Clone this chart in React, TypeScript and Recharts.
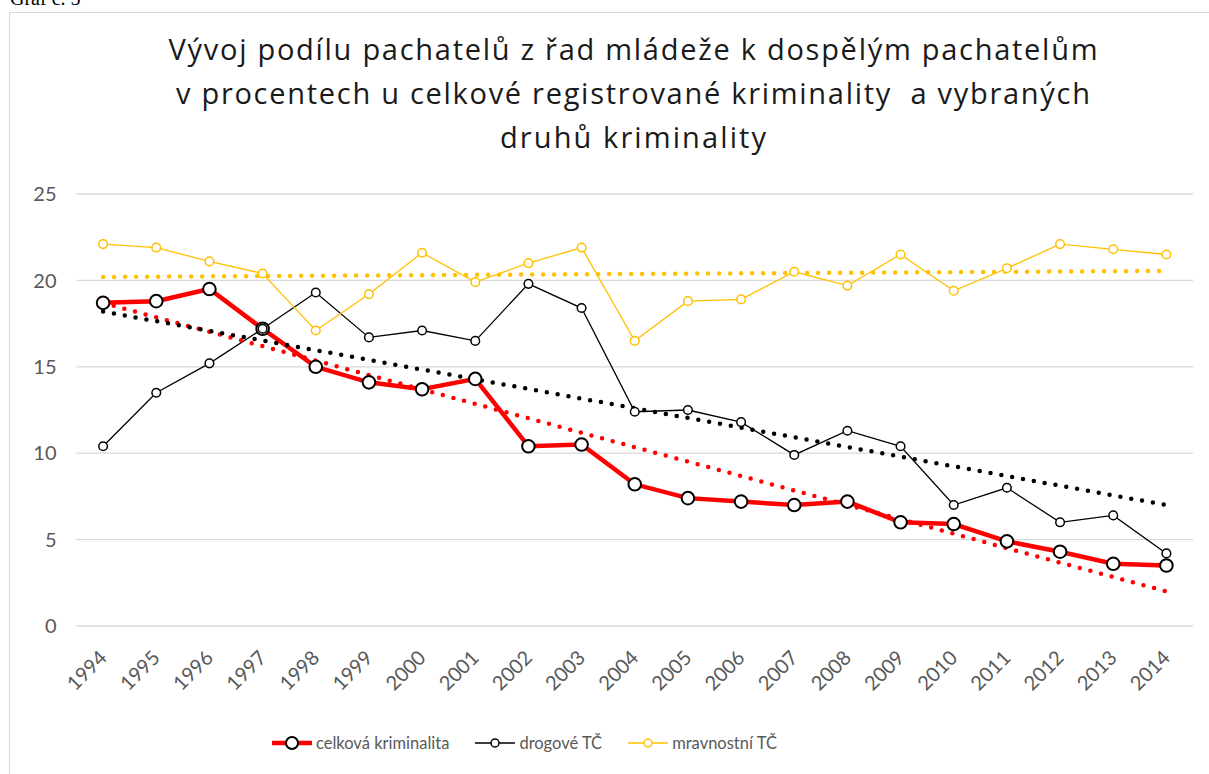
import React from 'react';
import { LineChart, Line, XAxis, YAxis, CartesianGrid, ReferenceLine } from 'recharts';

const years = [
  '1994', '1995', '1996', '1997', '1998', '1999', '2000', '2001', '2002', '2003', '2004',
  '2005', '2006', '2007', '2008', '2009', '2010', '2011', '2012', '2013', '2014',
];

const celkova = [18.7, 18.8, 19.5, 17.2, 15.0, 14.1, 13.7, 14.3, 10.4, 10.5, 8.2, 7.4, 7.2, 7.0, 7.2, 6.0, 5.9, 4.9, 4.3, 3.6, 3.5];
const drogove = [10.4, 13.5, 15.2, 17.2, 19.3, 16.7, 17.1, 16.5, 19.8, 18.4, 12.4, 12.5, 11.8, 9.9, 11.3, 10.4, 7.0, 8.0, 6.0, 6.4, 4.2];
const mravnostni = [22.1, 21.9, 21.1, 20.4, 17.1, 19.2, 21.6, 19.9, 21.0, 21.9, 16.5, 18.8, 18.9, 20.5, 19.7, 21.5, 19.4, 20.7, 22.1, 21.8, 21.5];

// lineární spojnice trendu (hodnoty na začátku a konci)
const trendCelkova = [18.7, 2.0];
const trendDrogove = [18.2, 7.0];
const trendMravnostni = [20.2, 20.55];

const yTicks = [0, 5, 10, 15, 20, 25];

const titleLines = [
  'Vývoj podílu pachatelů z řad mládeže k dospělým pachatelům',
  'v procentech u celkové registrované kriminality  a vybraných',
  'druhů kriminality',
];
const titleWidths = [929, 914, 266];

const data = years.map((y, i) => ({
  year: y,
  celkova: celkova[i],
  drogove: drogove[i],
  mravnostni: mravnostni[i],
}));

const FONT = 'Lato, "Open Sans", sans-serif';
const TITLE_FONT = '"Open Sans", Lato, sans-serif';
const GRAY = '#595959';
const RED = '#FF0000';
const YELLOW = '#FFC000';

const XTick = (props: any) => {
  const { x, y, payload } = props;
  const px = x + 5;
  const py = y + 25;
  return (
    <text
      x={px}
      y={py}
      transform={`rotate(-45, ${px}, ${py})`}
      textAnchor="end"
      fill={GRAY}
      fontSize={20}
      fontFamily={FONT}
    >
      {payload.value}
    </text>
  );
};

const legendItems = [
  { label: 'celková kriminalita', color: RED, width: 4.5, r: 6, markerStroke: '#000', markerWidth: 2 },
  { label: 'drogové TČ', color: '#000', width: 1.5, r: 4, markerStroke: '#000', markerWidth: 1.5 },
  { label: 'mravnostní TČ', color: YELLOW, width: 1.5, r: 4, markerStroke: YELLOW, markerWidth: 1.5 },
];

const ChartLegend = () => (
  <div
    style={{
      position: 'absolute',
      left: 272,
      top: 731,
      display: 'flex',
      gap: 26,
      fontFamily: FONT,
      fontSize: 16.5,
      color: GRAY,
      lineHeight: '24px',
      whiteSpace: 'nowrap',
    }}
  >
    {legendItems.map((it) => (
      <div key={it.label} style={{ display: 'flex', alignItems: 'center', gap: 4 }}>
        <svg width={40} height={16} style={{ display: 'block' }}>
          <line x1={0} y1={8} x2={40} y2={8} stroke={it.color} strokeWidth={it.width} />
          <circle cx={20} cy={8} r={it.r} fill="#fff" stroke={it.markerStroke} strokeWidth={it.markerWidth} />
        </svg>
        <span>{it.label}</span>
      </div>
    ))}
  </div>
);

const dotStyle = { strokeDasharray: '0 11', strokeLinecap: 'round' as const, strokeWidth: 4.5 };

export default function App() {
  return (
    <div style={{ position: 'absolute', left: 0, top: 0, width: 1209, height: 774, overflow: 'hidden', background: '#fff' }}>
      <div style={{ position: 'absolute', left: 10, top: -12, fontFamily: '"Liberation Serif", "Times New Roman", serif', fontSize: 20, lineHeight: '20px', whiteSpace: 'nowrap' }}>
        Graf č. 5
      </div>
      <div style={{ position: 'absolute', left: 9, top: 12, width: 1300, height: 800, border: '1.3px solid #d9d9d9', boxSizing: 'border-box' }} />
      <svg width={1209} height={170} style={{ position: 'absolute', left: 0, top: 0 }}>
        {titleLines.map((t, i) => (
          <text
            key={i}
            x={633}
            y={60 + i * 44}
            textAnchor="middle"
            textLength={titleWidths[i]}
            lengthAdjust="spacing"
            fontFamily={TITLE_FONT}
            fontSize={29}
            fill="#1a1a1a"
            style={{ whiteSpace: 'pre' }}
          >
            {t}
          </text>
        ))}
      </svg>
      <div style={{ position: 'absolute', left: 0, top: 0 }}>
        <LineChart width={1209} height={774} data={data} margin={{ top: 194, right: 16, left: 16.5, bottom: 88 }}>
          <CartesianGrid vertical={false} stroke="#d9d9d9" strokeWidth={1.3} />
          <XAxis
            dataKey="year"
            axisLine={false}
            tickLine={false}
            interval={0}
            height={60}
            padding={{ left: 26.6, right: 26.6 }}
            tick={<XTick />}
          />
          <YAxis
            domain={[0, 25]}
            ticks={yTicks}
            axisLine={false}
            tickLine={false}
            width={60}
            tickMargin={14}
            tick={{ fill: GRAY, fontSize: 20, fontFamily: FONT }}
          />
          <Line
            type="linear"
            dataKey="celkova"
            stroke={RED}
            strokeWidth={4.5}
            dot={{ r: 6.3, stroke: '#000', strokeWidth: 2, fill: '#fff' }}
            isAnimationActive={false}
          />
          <Line
            type="linear"
            dataKey="drogove"
            stroke="#000"
            strokeWidth={1.3}
            dot={{ r: 4.3, stroke: '#000', strokeWidth: 1.5, fill: '#fff' }}
            isAnimationActive={false}
          />
          <Line
            type="linear"
            dataKey="mravnostni"
            stroke={YELLOW}
            strokeWidth={1.3}
            dot={{ r: 4.3, stroke: YELLOW, strokeWidth: 1.5, fill: '#fff' }}
            isAnimationActive={false}
          />
          <ReferenceLine
            segment={[{ x: years[0], y: trendCelkova[0] }, { x: years[years.length - 1], y: trendCelkova[1] }]}
            stroke={RED}
            {...dotStyle}
          />
          <ReferenceLine
            segment={[{ x: years[0], y: trendDrogove[0] }, { x: years[years.length - 1], y: trendDrogove[1] }]}
            stroke="#000"
            {...dotStyle}
          />
          <ReferenceLine
            segment={[{ x: years[0], y: trendMravnostni[0] }, { x: years[years.length - 1], y: trendMravnostni[1] }]}
            stroke={YELLOW}
            {...dotStyle}
          />
        </LineChart>
      </div>
      <ChartLegend />
    </div>
  );
}
